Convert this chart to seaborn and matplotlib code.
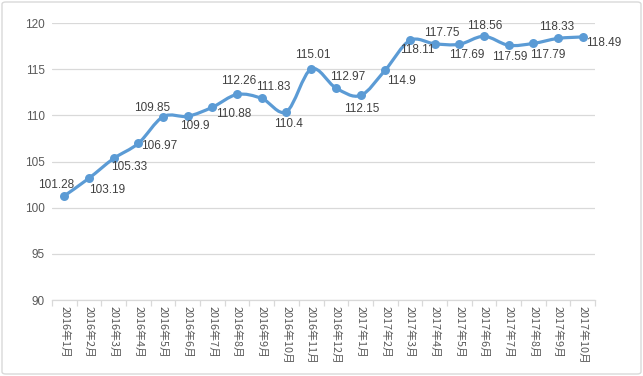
import numpy as np
import pandas as pd
import matplotlib
matplotlib.use("Agg")
import matplotlib.pyplot as plt
from matplotlib.path import Path
from matplotlib.patches import PathPatch, FancyBboxPatch
import seaborn as sns

months = ["2016年1月", "2016年2月", "2016年3月", "2016年4月", "2016年5月", "2016年6月",
          "2016年7月", "2016年8月", "2016年9月", "2016年10月", "2016年11月", "2016年12月",
          "2017年1月", "2017年2月", "2017年3月", "2017年4月", "2017年5月", "2017年6月",
          "2017年7月", "2017年8月", "2017年9月", "2017年10月"]
values = [101.28, 103.19, 105.33, 106.97, 109.85, 109.9, 110.88, 112.26, 111.83, 110.4,
          115.01, 112.97, 112.15, 114.9, 118.11, 117.75, 117.69, 118.56, 117.59, 117.79,
          118.33, 118.49]
yticks = [90, 95, 100, 105, 110, 115, 120]

# label offsets in pixels (style only)
offsets = [(-8, 11), (18, -12), (15, -9), (21, -3), (-11, 9), (7, -10), (21, -7), (2, 13),
           (11, 11), (2, -12), (2, 14), (12, 11), (1, -14), (16, -11), (7, -10), (7, 11),
           (7, -11), (1, 10), (1, -12), (14, -12), (-1, 11), (21, -6)]

sns.set_theme(style="white")
plt.rcParams['font.family'] = ['Liberation Sans', 'Noto Sans CJK SC', 'DejaVu Sans']

df = pd.DataFrame({"x": np.arange(len(values)), "month": months, "value": values})

fig = plt.figure(figsize=(6.43, 3.76), dpi=100)
ax = fig.add_axes([52/643, 1-300/376, (595-52)/643, (300-23)/376])

blue = "#5B9BD5"
grey = "#595959"

# smooth line (Catmull-Rom -> cubic Bezier) through the data points
xs = df["x"].to_numpy(dtype=float)
ys = df["value"].to_numpy(dtype=float)
verts = [(xs[0], ys[0])]
codes = [Path.MOVETO]
n = len(xs)
for i in range(n - 1):
    p0 = np.array([xs[max(i-1, 0)], ys[max(i-1, 0)]])
    p1 = np.array([xs[i], ys[i]])
    p2 = np.array([xs[i+1], ys[i+1]])
    p3 = np.array([xs[min(i+2, n-1)], ys[min(i+2, n-1)]])
    c1 = p1 + (p2 - p0) / 6.0
    c2 = p2 - (p3 - p1) / 6.0
    verts += [tuple(c1), tuple(c2), tuple(p2)]
    codes += [Path.CURVE4] * 3
ax.add_patch(PathPatch(Path(verts, codes), facecolor="none", edgecolor=blue,
                       lw=2.3, capstyle="round", joinstyle="round", zorder=3))

sns.scatterplot(data=df, x="x", y="value", ax=ax, color=blue, s=42,
                edgecolor=blue, linewidth=0, zorder=4, legend=False)

for (x, v, (dx, dy)) in zip(df["x"], df["value"], offsets):
    ax.annotate(f"{v:g}", (x, v), xytext=(dx, dy), textcoords="offset pixels",
                ha="center", va="center", fontsize=8.5, color="#404040", zorder=5)

ax.set_xlim(-0.5, len(values) - 0.5)
ax.set_ylim(90, 120)
ax.set_yticks(yticks)
ax.set_yticklabels([str(t) for t in yticks], fontsize=8.5, color=grey)
ax.yaxis.grid(True, color="#D9D9D9", lw=0.9)
ax.set_xticks(df["x"])
ax.set_xticklabels(df["month"], rotation=-90, fontsize=7.8, color=grey,
                   family=['Noto Sans CJK SC', 'DejaVu Sans'], va="top", ha="center")
ax.set_xticks(np.arange(-0.5, len(values)), minor=True)
ax.tick_params(axis="x", which="major", length=0, pad=4)
ax.tick_params(axis="x", which="minor", length=4, color="#D9D9D9", width=0.9, bottom=True)
ax.tick_params(axis="y", length=0, pad=5)
for s in ["top", "right", "left"]:
    ax.spines[s].set_visible(False)
ax.spines["bottom"].set_color("#D9D9D9")
ax.spines["bottom"].set_linewidth(0.9)
ax.set_xlabel("")
ax.set_ylabel("")

border = FancyBboxPatch((2/643, 2/376), 639/643, 372/376, boxstyle="round,pad=0,rounding_size=0.006",
                        transform=fig.transFigure, facecolor="none", edgecolor="#D9D9D9", lw=1)
fig.patches.append(border)

fig.savefig("out.png", dpi=100)
